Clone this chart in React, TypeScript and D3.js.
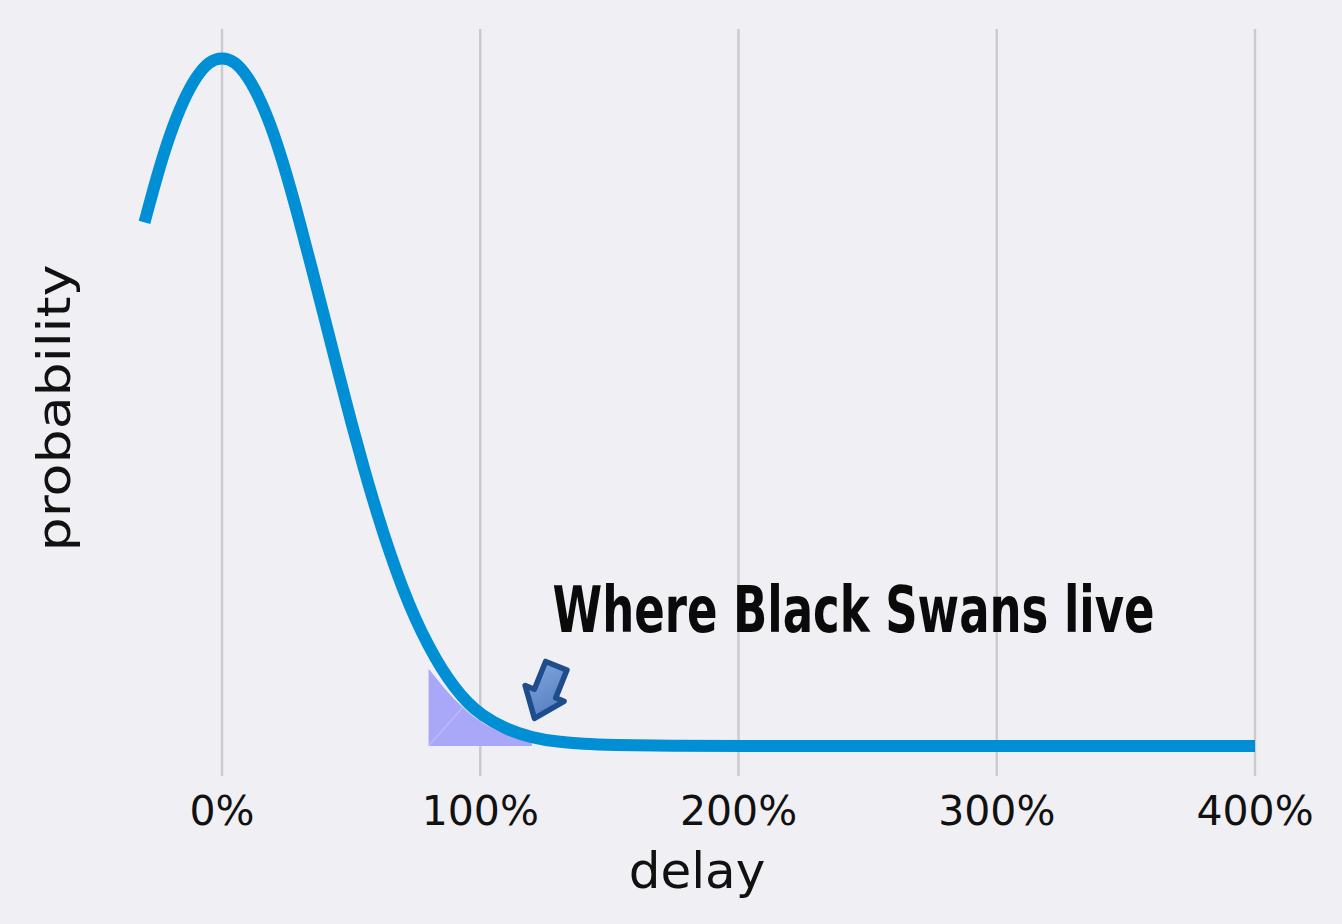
import React from "react";
import * as d3 from "d3";

const delayPct: number[] = [
  -30, -25, -20, -15, -10, -5, 0, 5, 10, 15, 20, 25, 30, 35, 40, 45, 50, 55, 60, 65, 70, 75, 80, 85, 90, 95, 100,
  110, 120, 130, 140, 150, 175, 200, 250, 300, 350, 400,
];
const probability: number[] = [
  0.76, 0.83, 0.89, 0.937, 0.972, 0.994, 1.0, 0.994, 0.972, 0.937, 0.89, 0.83, 0.762, 0.69, 0.617, 0.543, 0.47, 0.402, 0.338, 0.28, 0.228, 0.183,
  0.145, 0.112, 0.085, 0.063, 0.046, 0.024, 0.012, 0.006, 0.003, 0.0015, 0.0003, 0, 0, 0, 0, 0,
];

const shadeDelay: number[] = [80, 90, 100, 110, 120];
const shadeProb: number[] = [0.112, 0.068, 0.036, 0.018, 0.008];

const tickValues: number[] = [0, 100, 200, 300, 400];
const tickLabels: string[] = ["0%", "100%", "200%", "300%", "400%"];

const annotationText = "Where Black Swans live";
const annotationPos = { x: 128, y: 0.166 };
const arrowTip = { x: 121, y: 0.04 };

const W = 1342;
const H = 924;

export default function App() {
  const x = d3.scaleLinear().domain([0, 400]).range([222, 1255]);
  const y = d3.scaleLinear().domain([0, 1]).range([746, 57]);

  const pts = delayPct.map((d, i) => [d, probability[i]] as [number, number]);
  const line = d3
    .line<[number, number]>()
    .x((d) => x(d[0]))
    .y((d) => y(d[1]))
    .curve(d3.curveBasis);

  const shadePts = shadeDelay.map((d, i) => [d, shadeProb[i]] as [number, number]);
  const area = d3
    .area<[number, number]>()
    .x((d) => x(d[0]))
    .y0(y(0))
    .y1((d) => y(d[1]))
    .curve(d3.curveMonotoneX);

  // arrow in local coords (pointing down), origin at tip
  const arrowLocal: [number, number][] = [
    [0, 0],
    [-21, -27],
    [-11, -27],
    [-11, -57],
    [12, -57],
    [12, -27],
    [21, -27],
  ];
  const arrowPath = "M" + arrowLocal.map((p) => p.join(",")).join("L") + "Z";

  return (
    <svg
      width={W}
      height={H}
      style={{ position: "absolute", left: 0, top: 0, display: "block" }}
    >
      <defs>
        <linearGradient id="arrowGrad" x1="0" y1="0" x2="1" y2="1">
          <stop offset="0%" stopColor="#82a8de" />
          <stop offset="100%" stopColor="#4f78bb" />
        </linearGradient>
      </defs>
      <rect x={0} y={0} width={W} height={H} fill="#f0eff3" />
      {tickValues.map((t) => (
        <line
          key={"g" + t}
          x1={x(t)}
          x2={x(t)}
          y1={29}
          y2={776}
          stroke="#cbcbcb"
          strokeWidth={2.5}
        />
      ))}
      <path d={area(shadePts) || ""} fill="#a9a7f8" />
      <line
        x1={x(80)}
        y1={y(0)}
        x2={x(93)}
        y2={y(0.055)}
        stroke="#bcbafa"
        strokeWidth={1.5}
      />
      <path
        d={line(pts) || ""}
        fill="none"
        stroke="#008fd5"
        strokeWidth={12}
        strokeLinejoin="round"
      />
      <g transform={`translate(${x(arrowTip.x)},${y(arrowTip.y)}) rotate(22)`}>
        <path
          d={arrowPath}
          fill="url(#arrowGrad)"
          stroke="#1f4d8c"
          strokeWidth={5.5}
          strokeLinejoin="round"
        />
      </g>
      <text
        x={x(annotationPos.x)}
        y={y(annotationPos.y)}
        fontFamily="'DejaVu Sans Condensed', 'DejaVu Sans', sans-serif"
        fontWeight="bold"
        fontSize={64}
        textLength={602}
        lengthAdjust="spacingAndGlyphs"
        fill="#0a0a0a"
      >
        {annotationText}
      </text>
      {tickValues.map((t, i) => (
        <text
          key={"t" + t}
          x={x(t)}
          y={825}
          textAnchor="middle"
          fontFamily="'DejaVu Sans', sans-serif"
          fontSize={41}
          fill="#111"
        >
          {tickLabels[i]}
        </text>
      ))}
      <text
        x={697}
        y={888}
        textAnchor="middle"
        fontFamily="'DejaVu Sans', sans-serif"
        fontSize={50}
        fill="#111"
      >
        delay
      </text>
      <text
        transform="translate(70,408) rotate(-90)"
        textAnchor="middle"
        fontFamily="'DejaVu Sans', sans-serif"
        fontSize={46}
        textLength={287}
        lengthAdjust="spacingAndGlyphs"
        fill="#111"
      >
        probability
      </text>
    </svg>
  );
}
